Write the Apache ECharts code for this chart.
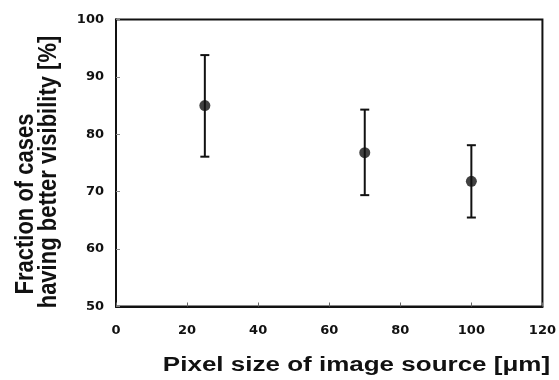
<!DOCTYPE html>
<html>
<head>
<meta charset="utf-8">
<script src="https://cdn.jsdelivr.net/npm/echarts@6/dist/echarts.min.js"></script>
<style>
  html, body { margin: 0; padding: 0; background: #fff; }
  #chart { width: 559px; height: 380px; }
</style>
</head>
<body>
<div id="chart"></div>
<script>
const pixelSizes = [25, 70, 100]
const fractions = [85.0, 76.8, 71.8]
const upperErr = [93.8, 84.3, 78.1]
const lowerErr = [76.1, 69.4, 65.5]

const yTitleLines = ['Fraction of cases', 'having better visibility [%]']
const xTitle = 'Pixel size of image source [μm]'

const FONT = '"Liberation Sans", Arial, sans-serif'
const TICK_FONT = '"DejaVu Sans", sans-serif'
const INK = '#111'

const chart = echarts.init(document.getElementById('chart'), null, { renderer: 'canvas' })

const errData = pixelSizes.map((x, i) => [x, lowerErr[i], upperErr[i]])

// the source picture is a bit stretched sideways, so titles get a scale
chart.setOption({
    animation: false,
    backgroundColor: '#fff',
    grid: {
        left: 116, right: 15, top: 19.5, bottom: 73.5,
        show: true, borderColor: INK, borderWidth: 2, backgroundColor: 'transparent',
    },
    xAxis: {
        type: 'value', min: 0, max: 120, interval: 20,
        axisLine: { show: true, lineStyle: { color: INK, width: 2 } },
        axisTick: { show: true, inside: true, length: 4, lineStyle: { color: '#666', width: 1 } },
        axisLabel: { color: INK, fontSize: 13, fontWeight: 'bold', fontFamily: TICK_FONT, margin: 18 },
        splitLine: { show: false },
    },
    yAxis: {
        type: 'value', min: 50, max: 100, interval: 10,
        axisLine: { show: true, lineStyle: { color: INK, width: 2 } },
        axisTick: { show: true, inside: true, length: 4, lineStyle: { color: '#888', width: 1 } },
        axisLabel: { color: INK, fontSize: 13, fontWeight: 'bold', fontFamily: TICK_FONT, margin: 12 },
        splitLine: { show: false },
    },
    graphic: [
        {
            // rotated text: scaleY widens the glyphs across the page
            type: 'text', x: 26, y: 204, rotation: Math.PI / 2, scaleY: 1.2,
            style: {
                text: yTitleLines[0], fill: INK, font: 'bold 22px ' + FONT,
                align: 'center', verticalAlign: 'middle',
            },
        },
        {
            type: 'text', x: 48.5, y: 172, rotation: Math.PI / 2, scaleY: 1.2,
            style: {
                text: yTitleLines[1], fill: INK, font: 'bold 22px ' + FONT,
                align: 'center', verticalAlign: 'middle',
            },
        },
        {
            type: 'text', x: 356.5, y: 365, scaleX: 1.3,
            style: {
                text: xTitle, fill: INK, font: 'bold 20px ' + FONT,
                align: 'center', verticalAlign: 'middle',
            },
        },
    ],
    series: [
        {
            type: 'custom',
            data: errData,
            z: 2,
            renderItem: (params, api) => {
                const x = api.value(0)
                const lo = api.coord([x, api.value(1)])
                const hi = api.coord([x, api.value(2)])
                const cap = 4.5
                const style = { stroke: INK, lineWidth: 2 }
                return {
                    type: 'group',
                    children: [
                        { type: 'line', shape: { x1: lo[0], y1: lo[1], x2: hi[0], y2: hi[1] }, style },
                        { type: 'line', shape: { x1: hi[0] - cap, y1: hi[1], x2: hi[0] + cap, y2: hi[1] }, style },
                        { type: 'line', shape: { x1: lo[0] - cap, y1: lo[1], x2: lo[0] + cap, y2: lo[1] }, style },
                    ],
                }
            },
        },
        {
            type: 'scatter',
            data: pixelSizes.map((x, i) => [x, fractions[i]]),
            symbol: 'circle', symbolSize: 11,
            itemStyle: { color: INK },
            z: 3,
        },
    ],
})
</script>
</body>
</html>
